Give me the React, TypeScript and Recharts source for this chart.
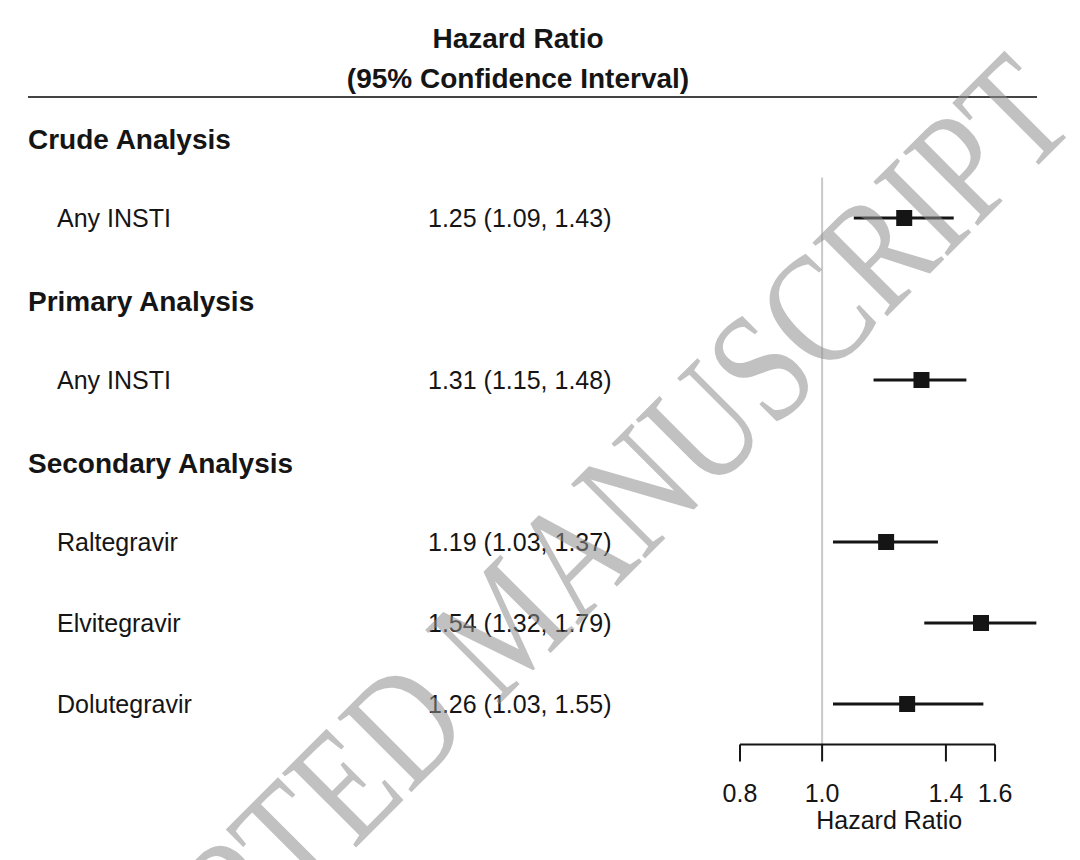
import {
  ScatterChart,
  Scatter,
  XAxis,
  YAxis,
  ErrorBar,
  ReferenceLine,
} from "recharts";

const INK = "#151515";
const FONT = "'Liberation Sans', Arial, Helvetica, sans-serif";

// one entry per row, top to bottom
const rowLabels = [
  "Crude Analysis",
  "Any INSTI",
  "Primary Analysis",
  "Any INSTI",
  "Secondary Analysis",
  "Raltegravir",
  "Elvitegravir",
  "Dolutegravir",
];
const headerRows = [true, false, true, false, true, false, false, false];
const hazard = [null, 1.25, null, 1.31, null, 1.19, 1.54, 1.26];
const ciLower = [null, 1.09, null, 1.15, null, 1.03, 1.32, 1.03];
const ciUpper = [null, 1.43, null, 1.48, null, 1.37, 1.79, 1.55];

const xTicks = [0.8, 1.0, 1.4, 1.6];
const rowTicks = rowLabels.map((_, i) => i);

const points = rowLabels
  .map((label, i) => ({
    label,
    y: i,
    x: hazard[i],
    err:
      hazard[i] == null
        ? null
        : [hazard[i]! - ciLower[i]!, ciUpper[i]! - hazard[i]!],
  }))
  .filter((p) => p.x != null);

function ciText(i: number): string {
  return `${hazard[i]!.toFixed(2)} (${ciLower[i]!.toFixed(2)}, ${ciUpper[
    i
  ]!.toFixed(2)})`;
}

function RowTick(props: any) {
  const { y, payload } = props;
  const i = payload.value as number;
  if (headerRows[i]) {
    return (
      <text
        x={28}
        y={y + 2}
        fontSize={28}
        fontWeight="bold"
        fill={INK}
        dominantBaseline="central"
      >
        {rowLabels[i]}
      </text>
    );
  }
  return (
    <g>
      <text x={57} y={y} fontSize={25} fill={INK} dominantBaseline="central">
        {rowLabels[i]}
      </text>
      <text x={428} y={y} fontSize={25} fill={INK} dominantBaseline="central">
        {ciText(i)}
      </text>
    </g>
  );
}

function SquareMark(props: any) {
  const { cx, cy } = props;
  return <rect x={cx - 8} y={cy - 8} width={16} height={16} fill={INK} />;
}

export default function App() {
  return (
    <div
      style={{
        position: "absolute",
        left: 0,
        top: 0,
        width: 1080,
        height: 860,
        background: "#fff",
        fontFamily: FONT,
      }}
    >
      <svg
        width={1080}
        height={860}
        style={{ position: "absolute", left: 0, top: 0 }}
      >
        <text
          x={518}
          y={38}
          fontSize={28}
          fontWeight="bold"
          textAnchor="middle"
          dominantBaseline="central"
          fill={INK}
        >
          Hazard Ratio
        </text>
        <text
          x={518}
          y={78}
          fontSize={28}
          fontWeight="bold"
          textAnchor="middle"
          dominantBaseline="central"
          fill={INK}
        >
          (95% Confidence Interval)
        </text>
        <line x1={28} x2={1037} y1={97} y2={97} stroke="#444" strokeWidth={2} />
      </svg>

      <div style={{ position: "absolute", left: 0, top: 0 }}>
        <ScatterChart
          width={1080}
          height={860}
          margin={{ top: 96.5, right: 41.6, bottom: 31.5, left: 0 }}
        >
          <XAxis
            type="number"
            dataKey="x"
            scale="log"
            domain={[0.8, 1.8]}
            allowDataOverflow
            ticks={xTicks}
            interval={0}
            tickFormatter={(v: number) => v.toFixed(1)}
            axisLine={false}
            tickLine={{ stroke: INK, strokeWidth: 2 }}
            tickSize={17}
            tickMargin={23}
            tick={{ fill: INK, fontSize: 25 }}
            height={84}
            label={{
              value: "Hazard Ratio",
              position: "insideBottom",
              offset: -0.5,
              fill: INK,
              fontSize: 25,
            }}
          />
          <YAxis
            type="number"
            dataKey="y"
            domain={[-0.5, 7.5]}
            reversed
            ticks={rowTicks}
            interval={0}
            width={740}
            axisLine={false}
            tickLine={false}
            tick={<RowTick />}
          />
          <ReferenceLine
            segment={[
              { x: 1, y: 0.5 },
              { x: 1, y: 7.5 },
            ]}
            stroke="#c9c9c9"
            strokeWidth={2}
          />
          <ReferenceLine
            segment={[
              { x: 0.8, y: 7.5 },
              { x: 1.6, y: 7.5 },
            ]}
            stroke={INK}
            strokeWidth={2}
          />
          <Scatter data={points} shape={<SquareMark />} isAnimationActive={false}>
            <ErrorBar
              dataKey="err"
              direction="x"
              width={0}
              stroke={INK}
              strokeWidth={3}
              isAnimationActive={false}
            />
          </Scatter>
        </ScatterChart>
      </div>

      <svg
        width={1080}
        height={860}
        style={{ position: "absolute", left: 0, top: 0, pointerEvents: "none" }}
      >
        <text
          x={0}
          y={0}
          transform="translate(505 622) rotate(-45) scale(0.8 1)"
          fontSize={160}
          fontFamily="'Liberation Serif', 'Times New Roman', serif"
          textAnchor="middle"
          dominantBaseline="central"
          fill="#8f8f8f"
          opacity={0.55}
        >
          ACCEPTED MANUSCRIPT
        </text>
      </svg>
    </div>
  );
}
